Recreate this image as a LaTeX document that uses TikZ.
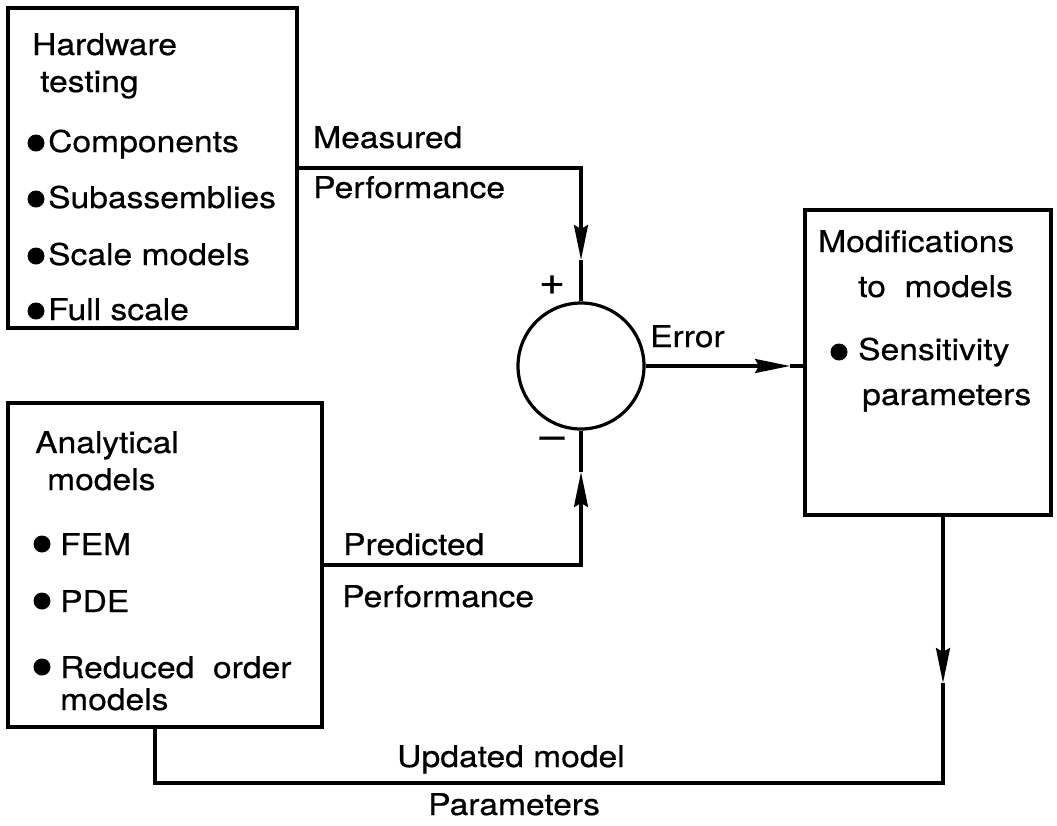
\documentclass[tikz,border=0pt]{standalone}
\usepackage{fontspec}
\setmainfont{TeX Gyre Heros}[FakeStretch=1.12,FakeBold=0.5]
\usetikzlibrary{arrows.meta}

\tikzset{
  block/.style={draw, line width=3.2pt, inner sep=0pt},
  txt/.style={anchor=base west, inner sep=0pt, font=\fontsize{30}{36}\selectfont},
  sign/.style={inner sep=0pt, font=\fontsize{40}{48}\selectfont},
  bulletdot/.style={circle, fill, inner sep=0pt, minimum size=17pt},
  wire/.style={line width=3.2pt},
  flow/.style={wire, -{Stealth[length=35pt,width=14pt,inset=4pt]}},
}

\begin{document}
\begin{tikzpicture}[x=1pt, y=-1pt]
\useasboundingbox (0,0) rectangle (1057,825);

% blocks
\node[block, minimum width=289pt, minimum height=320pt] (hw) at (152.5,168) {};
\node[block, minimum width=314pt, minimum height=324pt] (an) at (165,565) {};
\node[block, minimum width=246pt, minimum height=305pt] (mod) at (928,362.5) {};
\node[block, circle, minimum size=126pt] (sum) at (581,366) {};

% hardware testing
\node[txt] (hw1) at (32,55) {Hardware};
\node[txt] (hw2) at (40,92) {testing};
\node[bulletdot] (hwb1) at (36,143) {};
\node[txt] (hw3) at (48,152) {Components};
\node[bulletdot] (hwb2) at (36,199) {};
\node[txt] (hw4) at (48,208) {Subassemblies};
\node[bulletdot] (hwb3) at (36,256) {};
\node[txt] (hw5) at (48,265) {Scale\ models};
\node[bulletdot] (hwb4) at (36,311) {};
\node[txt] (hw6) at (48,320) {Full\ scale};

% analytical models
\node[txt] (an1) at (35,453) {Analytical};
\node[txt] (an2) at (47,490) {models};
\node[bulletdot] (anb1) at (42,544) {};
\node[txt] (an3) at (60,555) {FEM};
\node[bulletdot] (anb2) at (42,601) {};
\node[txt] (an4) at (60,612) {PDE};
\node[bulletdot] (anb3) at (42,667) {};
\node[txt] (an5) at (60,678) {Reduced\ \ order};
\node[txt] (an6) at (60,710) {models};

% modifications
\node[txt] (mod1) at (818,252) {Modifications};
\node[txt] (mod2) at (858,297) {to\ \ models};
\node[bulletdot] (modb1) at (839,352) {};
\node[txt] (mod3) at (858,360) {Sensitivity};
\node[txt] (mod4) at (862,405) {parameters};

% signal labels
\node[txt] (meas1) at (313,148) {Measured};
\node[txt] (meas2) at (313,198) {Performance};
\node[txt] (pred1) at (343,555) {Predicted};
\node[txt] (pred2) at (342,607) {Performance};
\node[txt] (err) at (650,347) {Error};
\node[txt] (upd1) at (397,767) {Updated\ model};
\node[txt] (upd2) at (428,815) {Parameters};
\node[sign] (plus) at (552,285) {+};
\node[sign] (minus) at (552,443) {\textendash};

% connectors
\coordinate (mtip) at (581,260);
\coordinate (ptip) at (581,472);
\coordinate (etip) at (790,366);
\coordinate (dtip) at (943,683);
\coordinate (ret) at (155,783);

\draw[flow] (hw.east) -| (mtip);
\draw[wire] (mtip) -- (sum.north);
\draw[flow] (an.east) -| (ptip);
\draw[wire] (ptip) -- (sum.south);
\draw[flow] (sum.east) -- (etip);
\draw[wire] (etip) -- (etip -| mod.west);
\draw[flow] (dtip |- mod.south) -- (dtip);
\draw[wire] (dtip) |- (ret) -- (ret |- an.south);

\end{tikzpicture}
\end{document}
